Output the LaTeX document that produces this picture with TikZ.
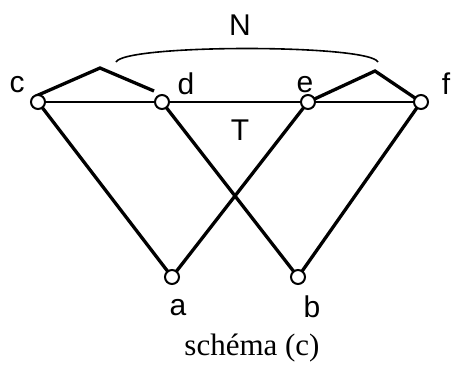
\documentclass[tikz,border=0pt]{standalone}
\usepackage{fontspec}
\setmainfont{Liberation Serif}
\newfontfamily\lbl{Liberation Sans}
\begin{document}
\begin{tikzpicture}[x=1pt,y=-1pt,
  vtx/.style={circle,draw=black,fill=white,line width=2pt,inner sep=0pt,minimum size=14pt},
  edge/.style={line width=3.3pt},
  thin edge/.style={line width=2.2pt},
  lab/.style={font=\lbl\fontsize{30}{32}\selectfont,inner sep=0pt,anchor=center},
  captext/.style={font=\fontsize{31}{33}\selectfont,inner sep=0pt,anchor=center}]
\useasboundingbox (0,0) rectangle (451,365);
\coordinate (c) at (38,102);
\coordinate (d) at (162,102);
\coordinate (e) at (308,102);
\coordinate (f) at (421,102);
\coordinate (a) at (172,277);
\coordinate (b) at (298,277);
\coordinate (lp) at (100,68);
\coordinate (ls) at (36,96);
\coordinate (le) at (154,91);
\coordinate (rp) at (375,71);
\coordinate (n1) at (116,62);
\coordinate (n2) at (378,62);
% horizontal line
\draw[thin edge] (c) -- (f);
% crossing lines
\draw[edge] (c) -- (a);
\draw[edge] (d) -- (b);
\draw[edge] (e) -- (a);
\draw[edge] (f) -- (b);
% wedges
\draw[edge] (ls) -- (lp) -- (le);
\draw[edge] (e) -- (rp) -- (f);
% N arc
\draw[line width=1.6pt] (n1) .. controls (125,44) and (369,44) .. (n2);
% vertices
\node[vtx] (C) at (c) {};
\node[vtx] (D) at (d) {};
\node[vtx] (E) at (e) {};
\node[vtx] (F) at (f) {};
\node[vtx] (A) at (a) {};
\node[vtx] (B) at (b) {};
% labels
\node[lab] (lc) at (17,85) {c};
\node[lab] (ld) at (186,84) {d};
\node[lab] (le2) at (305,85) {e};
\node[lab] (lf) at (446,84) {f};
\node[lab] (lN) at (240,25) {N};
\node[lab] (lT) at (240,130) {T};
\node[lab] (la) at (178,308) {a};
\node[lab] (lb) at (312,307) {b};
\node[captext] (lcap) at (252,348) {schéma (c)};
\end{tikzpicture}
\end{document}
